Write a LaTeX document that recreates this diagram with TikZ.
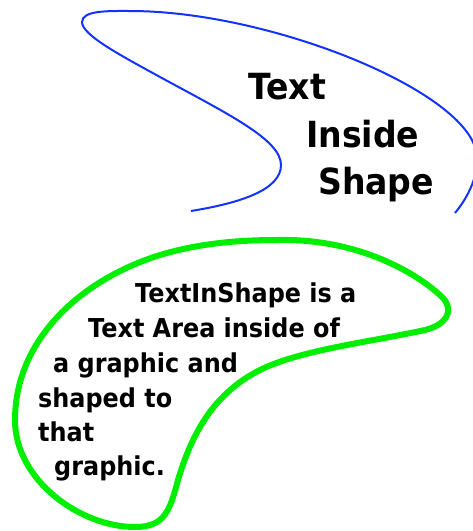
\documentclass[tikz,border=0pt]{standalone}
\usepackage{fontspec}
\newfontfamily\lgfont[FakeStretch=0.92]{DejaVu Sans}
\definecolor{shapeblue}{RGB}{20,50,255}
\definecolor{shapegreen}{RGB}{0,238,0}
\tikzset{
  bigtxt/.style={anchor=base west, inner sep=0pt, font=\lgfont\bfseries\fontsize{36}{40}\selectfont},
  smalltxt/.style={anchor=base west, inner sep=0pt, font=\lgfont\bfseries\fontsize{26}{30}\selectfont},
  blueline/.style={draw=shapeblue, line width=2pt},
  greenline/.style={draw=shapegreen, line width=6pt, line join=round}
}
\begin{document}
\begin{tikzpicture}[x=1pt,y=-1pt]
\useasboundingbox (0,0) rectangle (473,531);
\begin{scope}
\clip (0,0) rectangle (473,531);
\draw[blueline] (191,211) .. controls (240,203) and (281,190) .. (281,165)
  .. controls (281,140) and (230,115) .. (160,77)
  .. controls (120,55) and (82,35) .. (82,22)
  .. controls (82,10) and (110,11) .. (130,11)
  .. controls (260,11) and (440,80) .. (472,140)
  .. controls (485,165) and (470,195) .. (455,213);
\end{scope}
\node[bigtxt] (t1) at (248,99) {Text};
\node[bigtxt] (t2) at (306,147) {Inside};
\node[bigtxt] (t3) at (318,194) {Shape};

\draw[greenline] (277,240) .. controls (360,238) and (420,275) .. (443,298)
  .. controls (455,312) and (445,325) .. (425,330)
  .. controls (370,342) and (300,350) .. (260,370)
  .. controls (210,395) and (190,440) .. (178,480)
  .. controls (170,510) and (165,527) .. (135,527)
  .. controls (80,527) and (15,480) .. (15,420)
  .. controls (15,340) and (80,280) .. (160,255)
  .. controls (200,243) and (240,240) .. (277,240) -- cycle;

\node[smalltxt] (s1) at (135,302) {TextInShape is a};
\node[smalltxt] (s2) at (88,337) {Text Area inside of};
\node[smalltxt] (s3) at (53,372) {a graphic and};
\node[smalltxt] (s4) at (38,407) {shaped to};
\node[smalltxt] (s5) at (38,441) {that};
\node[smalltxt] (s6) at (54,475) {graphic.};
\end{tikzpicture}
\end{document}
